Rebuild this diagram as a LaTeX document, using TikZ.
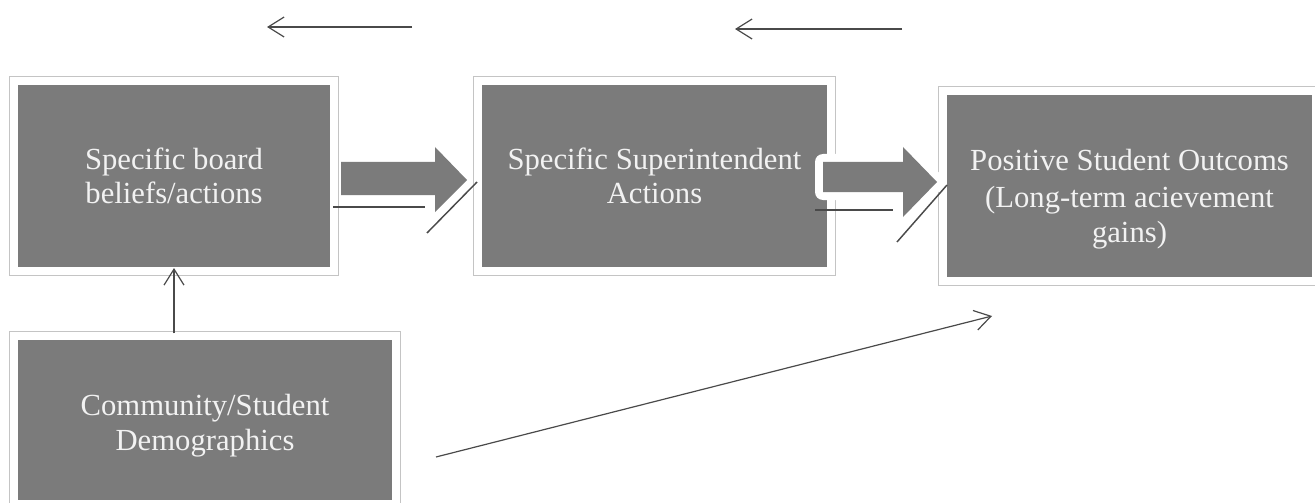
\documentclass[tikz,border=0pt]{standalone}
\usepackage{fontspec}
\setmainfont{Liberation Serif}
\usetikzlibrary{arrows.meta}
\definecolor{boxfill}{HTML}{7B7B7B}
\definecolor{frameline}{HTML}{C4C4C4}
\definecolor{linecol}{HTML}{4A4A4A}
\definecolor{txtcol}{HTML}{F2F2F2}
\begin{document}
\begin{tikzpicture}[x=0.75pt,y=-0.75pt,
  box/.style={rectangle, fill=boxfill, draw=white, line width=6pt, outer sep=0pt,
    inner sep=0pt, text=txtcol, align=center, font=\fontsize{23}{26}\selectfont,
    preaction={draw=frameline, line width=7.4pt}},
  boxtext/.style={text=txtcol, align=center, font=\fontsize{23}{26}\selectfont, inner sep=0pt},
  thinarrow/.style={draw=linecol, line width=0.9pt,
    -{Straight Barb[length=12pt,width=15pt,line width=0.9pt]}},
  blockfill/.style={fill=boxfill},
  blockrim/.style={draw=white, line width=12pt, line join=round},
  shadowline/.style={draw=linecol, line width=1.5pt},
  slashline/.style={draw=linecol, line width=1.1pt},
]
\useasboundingbox (0,0) rectangle (1315,503);

% boxes
\node[box, minimum width=240pt, minimum height=142.5pt] (A) at (174,176)
  {Specific board\\beliefs/actions};
\node[box, minimum width=264.75pt, minimum height=142.5pt] (B) at (654.5,176)
  {Specific Superintendent\\Actions};
\node[box, minimum width=279.75pt, minimum height=142.5pt] (C) at (1129.5,186) {};
\node[boxtext] (Ctext) at ([yshift=-10pt]C.center)
  {Positive Student Outcoms\\[2pt](Long-term acievement\\gains)};
\node[box, minimum width=286.5pt, minimum height=126pt] (D) at (205,420) {};
\node[boxtext] (Dtext) at ([yshift=-4.5pt]D.center)
  {Community/Student\\Demographics};

% block arrow A -> B
\fill[blockfill] (341,162) -- (435,162) -- (435,147) -- (467,180) -- (435,212)
  -- (435,195) -- (341,195) -- cycle;
\draw[shadowline] (333,207) -- (425,207);
\draw[slashline] (427,233) -- (477,182);

% block arrow B -> C
\draw[blockrim] (823,162) -- (903,162) -- (903,147) -- (937,182) -- (903,217)
  -- (903,192) -- (823,192) -- cycle;
\fill[blockfill] (823,162) -- (903,162) -- (903,147) -- (937,182) -- (903,217)
  -- (903,192) -- (823,192) -- cycle;
\draw[shadowline] (815,210) -- (893,210);
\draw[slashline] (897,242) -- (947,185);

% thin arrows
\coordinate (t1s) at (412,27);
\coordinate (t1e) at (267,27);
\coordinate (t2s) at (902,29);
\coordinate (t2e) at (735,29);
\coordinate (ls) at (436,457);
\coordinate (le) at (992,316);
\draw[thinarrow] (t1s) -- (t1e);
\draw[thinarrow] (t2s) -- (t2e);
\draw[thinarrow] ([yshift=2pt]A.south |- D.north) -- ([yshift=2.25pt]A.south);
\draw[thinarrow] (ls) -- (le);
\end{tikzpicture}
\end{document}
